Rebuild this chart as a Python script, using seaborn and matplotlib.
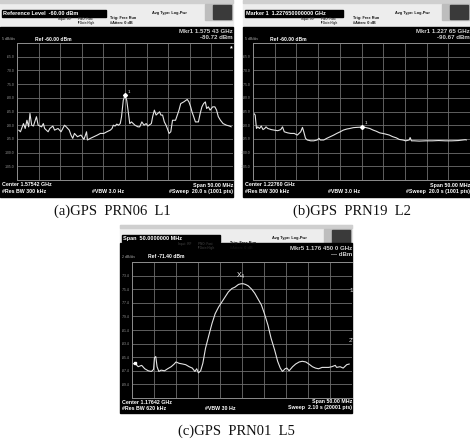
import pandas as pd
import matplotlib.pyplot as plt
import seaborn as sns
from matplotlib.patches import Rectangle

# trace data (offset from start freq in MHz, level in dBm)
a_off = [0.4, 0.8, 1.5, 1.9, 2.3, 2.7, 3.0, 3.4, 3.8, 4.5,
         4.9, 5.7, 6.1, 6.4, 7.2, 7.6, 8.3, 8.7, 9.5, 10.2,
         11.0, 11.4, 12.1, 12.5, 12.9, 13.3, 14.0, 14.8, 15.5, 16.1,
         16.3, 17.0, 17.8, 18.6, 19.3, 20.1, 20.8, 21.6, 22.0, 22.3,
         22.7, 23.1, 23.5, 23.9, 24.2, 24.6, 25.0, 25.4, 25.8, 26.1,
         26.5, 27.3, 28.0, 28.4, 28.9, 29.4, 29.9, 30.3, 31.1, 31.4,
         31.8, 32.2, 32.6, 33.0, 33.3, 33.7, 34.1, 34.5, 34.8, 35.2,
         35.6, 36.0, 36.7, 37.5, 37.9, 38.6, 39.4, 39.8, 40.2, 40.5,
         40.9, 41.3, 42.0, 42.4, 42.8, 43.2, 43.6, 43.9, 44.3, 44.7,
         45.3, 45.8, 46.2, 46.6, 47.1, 47.7, 48.5, 49.2, 49.6]
a_dbm = [-91.8, -92.4, -89.4, -91.2, -88.2, -90.6, -85.7, -90.0, -90.3, -86.9,
         -90.0, -90.6, -89.4, -91.2, -92.4, -91.2, -90.3, -91.8, -91.2, -92.4,
         -90.0, -90.6, -91.8, -93.6, -94.8, -93.0, -94.2, -93.6, -95.2, -92.4,
         -95.4, -94.8, -94.2, -93.6, -93.0, -93.0, -92.4, -91.8, -91.2, -90.0,
         -90.3, -89.6, -90.0, -89.4, -86.9, -80.9, -79.1, -80.9, -85.7, -89.4,
         -88.8, -90.0, -90.6, -90.6, -88.8, -90.0, -89.4, -90.3, -89.4, -86.9,
         -84.5, -86.3, -85.7, -85.1, -86.3, -86.3, -88.8, -90.0, -91.2, -93.0,
         -92.4, -88.2, -88.2, -84.5, -82.1, -81.5, -80.6, -81.5, -83.3, -85.1,
         -86.9, -88.8, -88.8, -85.7, -83.3, -82.1, -81.5, -83.9, -83.3, -84.5,
         -83.3, -83.3, -84.5, -86.9, -88.2, -89.4, -90.0, -90.3, -90.6]

b_off = [0.2, 0.5, 0.8, 1.1, 1.5, 1.9, 2.3, 2.7, 3.0, 3.4,
         4.2, 4.9, 5.7, 6.4, 6.8, 7.2, 8.0, 8.7, 9.5, 10.2,
         11.0, 11.4, 11.7, 12.1, 12.5, 13.3, 14.0, 14.8, 15.2, 15.5,
         16.3, 17.0, 17.8, 18.6, 19.3, 20.1, 20.8, 21.6, 22.3, 23.1,
         23.9, 25.0, 25.4, 26.1, 26.9, 27.7, 28.4, 29.2, 29.9, 30.7,
         31.4, 32.2, 33.0, 33.7, 34.5, 35.2, 36.0, 36.2, 36.5, 37.1,
         38.3, 39.8, 41.3, 42.8, 44.3, 45.8, 47.3, 48.9, 49.2]
b_dbm = [-85.7, -86.3, -91.2, -90.6, -91.2, -90.3, -91.6, -91.2, -90.6, -91.2,
         -91.6, -91.8, -92.0, -91.6, -90.6, -92.4, -92.8, -93.0, -93.0, -93.6,
         -92.4, -90.8, -92.4, -94.8, -95.4, -95.7, -95.7, -95.4, -94.8, -95.4,
         -95.4, -94.8, -94.2, -93.6, -93.0, -92.4, -91.8, -91.4, -91.2, -90.9,
         -90.8, -90.7, -90.6, -90.9, -91.2, -91.8, -92.2, -92.8, -93.0, -93.3,
         -93.6, -94.2, -94.6, -95.2, -95.4, -95.7, -95.4, -94.5, -95.7, -95.7,
         -95.8, -95.7, -95.7, -95.6, -95.7, -95.7, -95.6, -95.3, -95.4]

c_off = [0.1, 0.7, 1.4, 2.2, 2.9, 3.7, 4.4, 4.9, 5.1, 5.4,
         5.7, 6.1, 6.6, 7.4, 8.1, 8.9, 9.6, 10.0, 10.7, 11.5,
         12.2, 13.0, 13.7, 14.3, 14.7, 15.1, 15.6, 16.1, 16.7, 17.5,
         18.2, 18.9, 19.7, 20.4, 21.2, 21.9, 22.7, 23.4, 24.2, 24.8,
         25.3, 25.8, 26.4, 27.2, 27.9, 28.6, 29.4, 30.1, 30.9, 31.6,
         32.4, 33.1, 33.7, 34.2, 34.8, 35.2, 35.7, 36.5, 37.2, 38.0,
         38.7, 39.5, 40.2, 41.0, 41.7, 42.4, 43.2, 43.9, 44.7, 45.4,
         46.2, 46.5, 47.3, 48.0, 48.8, 49.4]
c_dbm = [-86.4, -86.3, -86.8, -86.6, -87.1, -87.4, -87.5, -87.2, -85.5, -85.3,
         -86.8, -87.5, -87.3, -87.4, -87.1, -86.8, -86.4, -86.1, -86.3, -86.4,
         -86.5, -86.8, -87.0, -87.5, -87.1, -87.7, -87.4, -86.3, -84.1, -82.1,
         -80.4, -79.0, -78.0, -77.3, -76.5, -75.8, -75.3, -75.1, -74.7, -74.6,
         -74.6, -74.7, -74.9, -75.4, -76.0, -76.8, -77.7, -79.0, -80.7, -82.6,
         -84.3, -86.0, -87.0, -87.5, -87.1, -87.0, -87.4, -86.8, -86.4, -86.1,
         -86.0, -86.1, -86.4, -86.8, -87.0, -87.1, -86.9, -86.9, -86.9, -86.8,
         -86.6, -86.9, -86.8, -87.0, -86.5, -86.4]

# analyzer settings shown on the screens
centers = [1575.42, 1227.60, 1176.42]   # MHz
span = 50.0
refs = [-60.0, -60.0, -71.40]
per_div = [5, 5, 2]
captions = ["(a)GPS  PRN06  L1", "(b)GPS  PRN19  L2", "(c)GPS  PRN01  L5"]

W, H = 470, 443
fig = plt.figure(figsize=(W / 100, H / 100), dpi=100)
sns.set_style("white")
plt.rcParams['font.family'] = ['Liberation Sans', 'DejaVu Sans']

# pixel-space overlay for the screen chrome
bg = fig.add_axes([0, 0, 1, 1])
bg.set_xlim(0, W)
bg.set_ylim(H, 0)
bg.axis('off')


def box(x0, y0, x1, y1):
    return [x0 / W, 1 - y1 / H, (x1 - x0) / W, (y1 - y0) / H]


def txt(x, y, s, size=3.6, color='white', ha='left', weight='bold'):
    bg.text(x, y, s, fontsize=size, color=color, ha=ha, va='center', fontweight=weight)


def chrome(x0, x1, top, body, bottom, bar_w, bar_text):
    bg.add_patch(Rectangle((x0, top), x1 - x0, body - top, color='#ededed'))
    bg.add_patch(Rectangle((x0, top), x1 - x0, 3, color='#cfcfcf'))
    bg.add_patch(Rectangle((x0 + 2, top + 10), bar_w, 7, color='black'))
    txt(x0 + 3, top + 13.5, bar_text, size=4.0)
    txt(x0 + 58, top + 19, "Input: RF", size=2.2, color='#333')
    txt(x0 + 78, top + 19, "PNO: Fast", size=2.2, color='#333')
    txt(x0 + 78, top + 23, "IFGain:High", size=2.2, color='#333')
    txt(x0 + 110, top + 18, "Trig: Free Run", size=2.8, color='#111')
    txt(x0 + 110, top + 23, "#Atten: 0 dB", size=2.8, color='#111')
    txt(x0 + 152, top + 13, "Avg Type: Log-Pwr", size=2.8, color='#111')
    bg.add_patch(Rectangle((x1 - 28, top + 4), 27, 16, color='#bdbdbd'))
    bg.add_patch(Rectangle((x1 - 20, top + 5), 18, 14, color='#3a3a3a'))
    bg.add_patch(Rectangle((x0, body), x1 - x0, bottom - body, color='black'))


def trace(rect, i, off, dbm, visible_px, full_px):
    ax = fig.add_axes(box(*rect))
    start = centers[i] - span / 2
    df = pd.DataFrame({'freq': [start + v for v in off], 'dbm': dbm})
    sns.lineplot(data=df, x='freq', y='dbm', ax=ax, color='#e4e4e4', lw=0.8,
                 sort=False, estimator=None)
    ax.set_xlim(start, start + span * visible_px / full_px)
    low = refs[i] - 10 * per_div[i]
    ax.set_ylim(low, refs[i])
    ax.set_xticks([start + k * span / 10 for k in range(11)])
    yt = [low + k * per_div[i] for k in range(11)]
    ax.set_yticks(yt)
    ax.set_yticklabels([''] + [f"{v:.1f}" for v in yt[1:-1]] + [''])
    ax.tick_params(axis='y', labelsize=2.4, colors='#9a9a9a', length=0, pad=1.5)
    ax.tick_params(axis='x', labelbottom=False, length=0)
    ax.set_facecolor('none')
    ax.grid(True, color='#6e6e6e', lw=0.6)
    for s in ax.spines.values():
        s.set_color('#8c8c8c')
        s.set_linewidth(0.7)
    ax.spines['right'].set_visible(False)
    ax.set_xlabel('')
    ax.set_ylabel('')
    return ax, df


# (a) L1
chrome(0, 233, 0, 27, 197, 104, "Reference Level  -60.00 dBm")
txt(233, 31, "Mkr1 1.575 43 GHz", size=4.4, color='#d0d0d0', ha='right')
txt(233, 37.5, "-80.72 dBm", size=4.4, color='#d0d0d0', ha='right')
txt(2, 39, "5 dB/div", size=2.6, color='#aaa', weight='normal')
txt(35, 39, "Ref -60.00 dBm", size=3.6)
txt(230, 49, "*", size=5)
txt(2, 185, "Center 1.57542 GHz", size=3.8)
txt(2, 191, "#Res BW 300 kHz", size=3.8)
txt(92, 191, "#VBW 3.0 Hz", size=3.8)
txt(233, 185, "Span 50.00 MHz", size=3.8, ha='right')
txt(233, 191, "#Sweep  20.0 s (1001 pts)", size=3.8, ha='right')
ax_a, df_a = trace((17, 43, 233, 180), 0, a_off, a_dbm, 216, 220)
pk = df_a['dbm'].idxmax()
ax_a.plot(df_a['freq'][pk], df_a['dbm'][pk], 'D', ms=2, color='white')
ax_a.annotate("1", (df_a['freq'][pk], df_a['dbm'][pk]), xytext=(2, 2),
              textcoords='offset points', fontsize=3.2, color='white')

# (b) L2
chrome(243, 470, 0, 27, 197, 98, "Marker 1  1.227650000000 GHz")
txt(470, 31, "Mkr1 1.227 65 GHz", size=4.4, color='#d0d0d0', ha='right')
txt(470, 37.5, "-90.67 dBm", size=4.4, color='#d0d0d0', ha='right')
txt(245, 39, "5 dB/div", size=2.6, color='#aaa', weight='normal')
txt(270, 39, "Ref -60.00 dBm", size=3.6)
txt(245, 185, "Center 1.22760 GHz", size=3.8)
txt(245, 191, "#Res BW 300 kHz", size=3.8)
txt(328, 191, "#VBW 3.0 Hz", size=3.8)
txt(470, 185, "Span 50.00 MHz", size=3.8, ha='right')
txt(470, 191, "#Sweep  20.0 s (1001 pts)", size=3.8, ha='right')
ax_b, df_b = trace((253, 43, 470, 180), 1, b_off, b_dbm, 217, 220)
ax_b.plot(1227.65, -90.67, 'D', ms=2, color='white')
ax_b.annotate("1", (1227.65, -90.67), xytext=(2, 2),
              textcoords='offset points', fontsize=3.2, color='white')

# (c) L5
chrome(120, 352, 225, 243, 413, 98, "Span  50.0000000 MHz")
txt(352, 248, "Mkr5 1.176 450 0 GHz", size=4.4, color='#d0d0d0', ha='right')
txt(352, 254.5, "--- dBm", size=4.4, color='#d0d0d0', ha='right')
txt(122, 257, "2 dB/div", size=2.6, color='#aaa', weight='normal')
txt(148, 257, "Ref -71.40 dBm", size=3.6)
txt(122, 402, "Center 1.17642 GHz", size=3.8)
txt(122, 408, "#Res BW 620 kHz", size=3.8)
txt(205, 408, "#VBW 30 Hz", size=3.8)
txt(352, 402, "Span 50.00 MHz", size=3.8, ha='right')
txt(352, 408, "Sweep  2.10 s (20001 pts)", size=3.8, ha='right')
txt(349, 290, "1'", size=4.5, color='#ddd', weight='normal')
txt(349, 340, "2'", size=4.5, color='#ddd', weight='normal')
ax_c, df_c = trace((132, 262, 352, 398), 2, c_off, c_dbm, 220, 223)
pk = df_c['dbm'].idxmax()
ax_c.annotate(r"X$_4$", (df_c['freq'][pk], df_c['dbm'][pk]), xytext=(0, 4),
              textcoords='offset points', fontsize=5, color='white', ha='center')
ax_c.plot(df_c['freq'][1], df_c['dbm'][1], 's', ms=2, color='white')

# captions under each screenshot
for (x, y), cap in zip([(112, 211), (352, 211), (236, 431)], captions):
    bg.text(x, y, cap, fontsize=10.5, ha='center', va='center',
            family=['Liberation Serif', 'DejaVu Serif'], color='#111')

fig.savefig('out.png', dpi=100)
